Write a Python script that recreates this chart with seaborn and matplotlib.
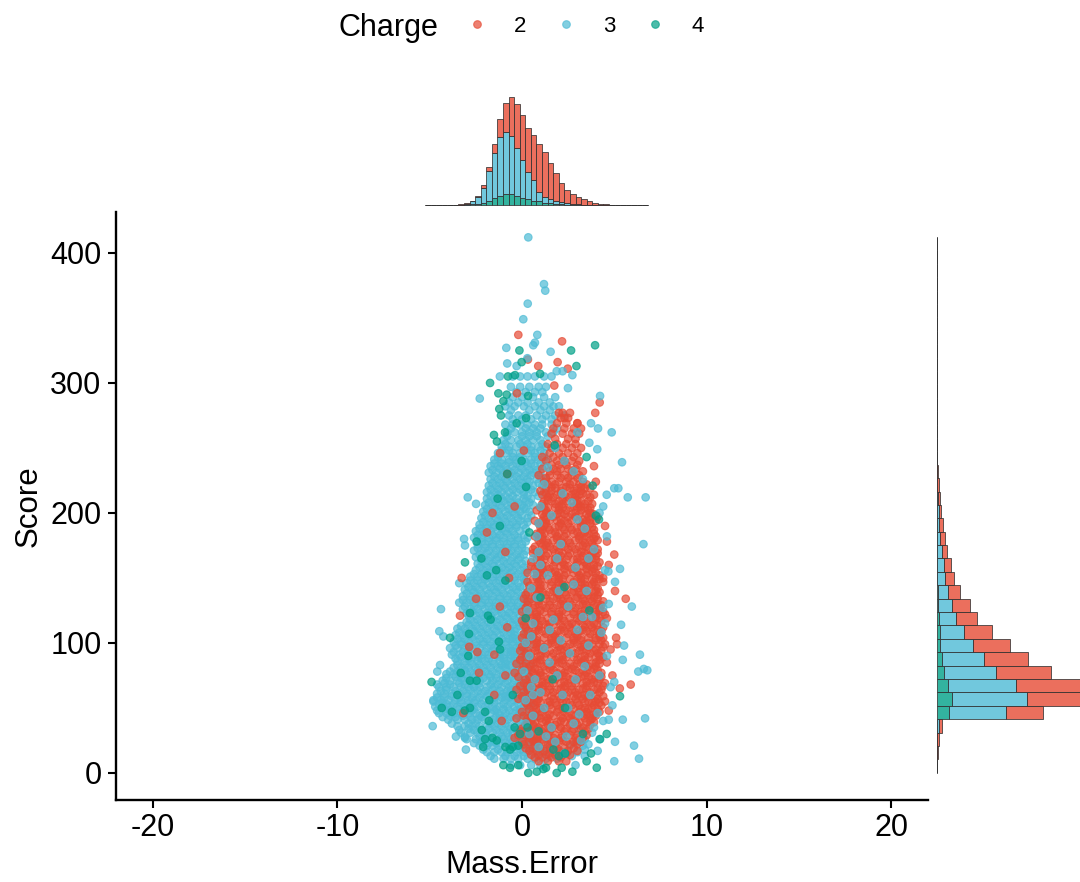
import numpy as np
import pandas as pd
import matplotlib
matplotlib.use("Agg")
import matplotlib.pyplot as plt
import seaborn as sns

blue_rows = {
    6: [-0.6, -0.1, 0.5, 1.0],
    11: [-1.5, -1.0, -0.6, -0.2, 0.3, 0.7, 1.3, 1.9],
    16: [-1.9, -1.5, -1.1, -0.8, -0.3, 0.1, 0.6, 1.1, 1.7, 2.3, 3.0],
    21: [-2.3, -1.9, -1.6, -1.2, -0.7, -0.4, 0.0, 0.4, 0.9, 1.5, 2.6, 3.3],
    26: [-3.0, -2.5, -2.1, -1.7, -1.3, -1.0, -0.6, -0.2, 0.2, 0.7, 1.4, 3.4, 4.2],
    31: [-3.3, -2.8, -2.4, -2.0, -1.6, -1.2, -0.8, -0.5, -0.1, 0.4, 1.1, 3.8],
    36: [-3.5, -3.1, -2.7, -2.3, -1.9, -1.5, -1.1, -0.7, -0.3, 0.1, 0.6],
    41: [-4.0, -3.5, -3.1, -2.7, -2.4, -2.0, -1.6, -1.2, -0.8, -0.4, 0.0, 0.5, 4.7],
    46: [-4.5, -4.1, -3.7, -3.3, -2.9, -2.5, -2.1, -1.7, -1.3, -0.9, -0.5, -0.1, 0.4],
    51: [-4.7, -4.3, -3.9, -3.5, -3.1, -2.8, -2.4, -2.0, -1.6, -1.2, -0.8, -0.4, 0.1, 0.6],
    56: [-4.8, -4.4, -4.0, -3.6, -3.3, -2.9, -2.5, -2.1, -1.7, -1.3, -0.9, -0.5, -0.1, 0.3],
    61: [-4.6, -4.2, -3.8, -3.4, -3.0, -2.6, -2.2, -1.8, -1.4, -1.0, -0.6, -0.2, 0.2, 0.7],
    66: [-4.5, -4.1, -3.7, -3.3, -2.9, -2.6, -2.3, -1.9, -1.5, -1.1, -0.7, -0.3, 0.1],
    71: [-4.3, -3.9, -3.5, -3.1, -2.7, -2.3, -1.9, -1.6, -1.2, -0.8, -0.4, 0.0, 0.4],
    76: [-4.1, -3.7, -3.3, -3.0, -2.6, -2.2, -1.8, -1.4, -1.0, -0.6, -0.2, 0.3],
    81: [-3.7, -3.3, -2.9, -2.5, -2.1, -1.7, -1.3, -0.9, -0.5, -0.1, 0.3],
    86: [-3.5, -3.1, -2.8, -2.4, -2.0, -1.6, -1.2, -0.8, -0.4, 0.0],
    91: [-3.8, -3.4, -3.0, -2.6, -2.2, -1.8, -1.4, -1.0, -0.6, -0.2, 0.2],
    96: [-3.9, -3.5, -3.1, -2.7, -2.3, -1.9, -1.5, -1.1, -0.7, -0.3, 0.1],
    101: [-3.7, -3.3, -2.9, -2.5, -2.1, -1.7, -1.3, -0.9, -0.5, -0.1],
    106: [-3.6, -3.2, -2.8, -2.4, -2.0, -1.6, -1.2, -0.8, -0.4, 0.0, 0.4],
    111: [-3.5, -3.1, -2.7, -2.3, -1.9, -1.5, -1.1, -0.7, -0.3, 0.2],
    116: [-3.0, -2.6, -2.2, -1.8, -1.4, -1.0, -0.6, -0.2, 0.1],
    121: [-2.9, -2.5, -2.1, -1.7, -1.3, -0.9, -0.5, -0.1],
    126: [-3.2, -2.8, -2.4, -2.0, -1.6, -1.2, -0.8, -0.4, 0.0],
    131: [-3.4, -3.0, -2.6, -2.2, -1.8, -1.4, -1.0, -0.6, -0.2, 0.2],
    136: [-3.2, -2.8, -2.4, -2.0, -1.6, -1.2, -0.8, -0.4, 0.0],
    141: [-3.1, -2.7, -2.3, -1.9, -1.5, -1.1, -0.7, -0.3],
    146: [-3.4, -3.0, -2.6, -2.2, -1.8, -1.4, -1.0, -0.6, -0.2],
    151: [-2.8, -2.4, -2.0, -1.6, -1.2, -0.8, -0.4, 0.0],
    156: [-2.5, -2.1, -1.7, -1.3, -0.9, -0.5, -0.1, 0.3],
    161: [-2.4, -2.0, -1.6, -1.2, -0.8, -0.4, 0.0],
    166: [-2.5, -2.1, -1.7, -1.3, -0.9, -0.5, -0.1],
    171: [-2.6, -2.2, -1.8, -1.4, -1.0, -0.6, -0.2, 0.2],
    176: [-2.4, -2.0, -1.6, -1.2, -0.8, -0.4, 0.0],
    181: [-2.6, -2.2, -1.8, -1.4, -1.0, -0.6, -0.2, 0.3],
    186: [-2.5, -2.1, -1.7, -1.3, -0.9, -0.5, -0.1],
    191: [-2.3, -1.9, -1.5, -1.1, -0.7, -0.3, 0.1],
    196: [-2.2, -1.8, -1.4, -1.0, -0.6, -0.2, 0.3],
    201: [-2.1, -1.7, -1.3, -0.9, -0.5, -0.1, 0.4],
    206: [-2.0, -1.6, -1.2, -0.8, -0.4, 0.0, 0.6],
    211: [-1.9, -1.5, -1.1, -0.7, -0.3, 0.1, 0.5],
    216: [-1.9, -1.5, -1.1, -0.7, -0.3, 0.1, 0.7, 1.2],
    221: [-1.8, -1.4, -1.0, -0.6, -0.2, 0.2, 0.6, 1.1],
    226: [-1.7, -1.3, -0.9, -0.5, -0.1, 0.3, 0.8, 1.3],
    231: [-1.8, -1.4, -1.0, -0.6, -0.2, 0.2, 0.6, 1.0],
    236: [-1.7, -1.3, -0.9, -0.5, -0.1, 0.3, 0.7, 1.2],
    241: [-1.5, -1.1, -0.7, -0.3, 0.1, 0.5, 0.9, 1.4],
    246: [-1.3, -0.9, -0.5, -0.1, 0.3, 0.7, 1.2],
    251: [-1.1, -0.7, -0.3, 0.1, 0.5, 0.9, 1.3],
    256: [-1.0, -0.6, -0.2, 0.2, 0.6, 1.0],
    262: [-0.8, -0.4, 0.0, 0.4, 0.8, 1.3, 1.7],
    268: [-0.9, -0.5, -0.1, 0.3, 0.7, 1.1, 1.6],
    275: [-0.7, -0.2, 0.2, 0.8, 1.3, 1.8, 2.3],
    282: [-0.9, -0.4, 0.1, 0.7, 1.2, 1.7, 2.0],
    289: [-0.5, 0.0, 0.6, 1.2, 1.8],
    297: [-0.6, -0.1, 0.4, 0.9, 1.3],
    305: [-1.2, -0.5, -0.1, 0.3, 0.7, 1.2, 1.6],
}

# Second pass over the same cloud, between the rows above
blue_rows_b = {
    13: [-1.7, -0.9, -0.4, 0.1, 0.9, 1.5, 2.7],
    18: [-2.1, -1.3, -0.6, -0.1, 0.4, 1.3, 2.0, 3.4],
    23: [-2.6, -1.8, -1.4, -0.9, -0.2, 0.3, 0.8, 1.7, 2.9],
    28: [-3.1, -2.3, -1.9, -1.1, -0.7, 0.0, 0.5, 1.0],
    33: [-3.4, -2.6, -2.2, -1.4, -1.0, -0.3, 0.2, 0.9, 3.1],
    38: [-3.8, -2.9, -2.5, -1.7, -1.3, -0.9, -0.1, 0.3],
    43: [-4.3, -3.6, -2.8, -2.2, -1.4, -1.0, -0.6, 0.2, 0.8],
    48: [-4.6, -3.9, -3.1, -2.7, -1.9, -1.5, -0.7, -0.3, 0.2],
    53: [-4.5, -4.1, -3.7, -2.9, -2.2, -1.8, -1.0, -0.2, 0.4],
    58: [-4.6, -4.2, -3.4, -2.7, -2.3, -1.5, -1.1, -0.7, 0.1],
    63: [-4.4, -3.6, -3.2, -2.4, -2.0, -1.2, -0.8, -0.4, 0.4],
    68: [-4.6, -3.9, -3.1, -2.7, -1.7, -1.3, -0.5, -0.1, 0.5],
    73: [-4.1, -3.3, -2.9, -2.1, -1.4, -1.0, -0.2, 0.2],
    78: [-3.9, -3.5, -2.8, -2.0, -1.6, -0.8, -0.4, 0.1],
    83: [-3.5, -3.1, -2.3, -1.9, -1.1, -0.7, -0.3, 0.5],
    88: [-3.6, -2.9, -2.2, -1.8, -1.0, -0.6, 0.2],
    93: [-3.7, -3.2, -2.4, -2.0, -1.2, -0.8, -0.4],
    98: [-3.6, -2.9, -2.5, -1.7, -1.3, -0.5, -0.1, 0.4],
    103: [-3.5, -3.1, -2.3, -1.9, -1.1, -0.7, -0.3],
    108: [-3.4, -3.0, -2.2, -1.8, -1.0, -0.6, 0.2],
    113: [-3.3, -2.5, -2.1, -1.3, -0.9, -0.1],
    118: [-2.8, -2.4, -1.6, -1.2, -0.4, 0.0],
    123: [-3.0, -2.3, -1.9, -1.1, -0.7, 0.2],
    128: [-3.1, -2.6, -1.8, -1.4, -0.6, -0.2],
    133: [-3.2, -2.8, -2.0, -1.6, -0.8, -0.4, 0.4],
    138: [-3.0, -2.2, -1.8, -1.0, -0.6, 0.2],
    143: [-2.9, -2.5, -1.7, -1.3, -0.5, -0.1],
    148: [-2.8, -2.4, -1.6, -1.2, -0.4, 0.2],
    153: [-2.6, -2.2, -1.4, -1.0, -0.2],
    158: [-2.3, -1.9, -1.1, -0.7, 0.1],
    163: [-2.2, -1.8, -1.0, -0.6, 0.2],
    168: [-2.3, -1.5, -1.1, -0.3, 0.1],
    173: [-2.4, -2.0, -1.2, -0.8, 0.0],
    178: [-2.2, -1.8, -1.0, -0.6, 0.2],
    183: [-2.4, -1.6, -1.2, -0.4, 0.1],
    188: [-2.3, -1.9, -1.1, -0.7, 0.2],
    193: [-2.1, -1.7, -0.9, -0.5, 0.3],
    198: [-2.0, -1.2, -0.8, 0.0, 0.5],
    203: [-1.9, -1.5, -0.7, -0.3, 0.2],
    208: [-1.8, -1.4, -0.6, -0.2, 0.4],
    213: [-1.7, -0.9, -0.5, 0.3, 0.9],
    218: [-1.7, -1.3, -0.5, -0.1, 0.5],
    223: [-1.6, -1.2, -0.4, 0.0, 0.9],
    228: [-1.5, -1.1, -0.3, 0.1, 1.0],
    233: [-1.6, -0.8, -0.4, 0.4, 0.8],
    238: [-1.5, -1.1, -0.3, 0.5, 1.0],
    243: [-1.3, -0.5, -0.1, 0.7, 1.2],
    248: [-1.1, -0.7, 0.1, 0.5, 1.0],
    253: [-0.9, -0.1, 0.3, 1.1],
    259: [-0.8, 0.0, 0.4, 0.8, 1.4],
    265: [-0.6, 0.2, 0.6, 1.0, 1.9],
    272: [-0.5, 0.0, 0.5, 1.1, 1.6],
    279: [-0.6, 0.4, 1.0, 1.5],
    285: [-0.7, -0.2, 0.3, 0.9, 1.5],
    293: [-0.3, 0.2, 0.7, 1.1],
}

# Third pass, filling the gaps in the solid blue area
blue_rows_c = {
    24: [-2.2, -1.5, -0.5, 0.6],
    34: [-2.9, -1.8, -0.6, 0.4],
    44: [-3.9, -3.2, -2.3, -1.2, -0.2, 0.7],
    49: [-4.2, -3.4, -2.6, -1.4, -1.0, -0.1],
    54: [-4.3, -3.3, -2.6, -1.5, -0.6, 0.5],
    59: [-3.8, -3.0, -1.9, -0.9, -0.3],
    64: [-4.1, -2.8, -1.6, -0.6, 0.1],
    69: [-4.2, -3.4, -2.3, -0.9, 0.2],
    74: [-3.6, -2.5, -1.7, -0.6, 0.4],
    79: [-3.1, -2.4, -1.2, 0.3],
    84: [-2.7, -1.5, -0.9, 0.1],
    89: [-3.3, -2.4, -1.2, -0.4],
    94: [-2.9, -1.6, -0.6, 0.1],
    99: [-3.3, -2.1, -0.9, 0.1],
    104: [-2.7, -1.5, -0.5, 0.3],
    109: [-2.6, -1.4, -0.4, 0.4],
    114: [-2.9, -1.7, -0.5],
    119: [-2.0, -0.8, 0.2],
    124: [-2.7, -1.5, -0.3],
    129: [-2.2, -1.0, 0.1],
    134: [-2.4, -1.2, 0.0],
    139: [-2.6, -1.4, -0.2],
    144: [-2.1, -0.9, 0.1],
    149: [-2.0, -0.8, 0.1],
    154: [-1.8, -0.6, 0.2],
    159: [-1.5, -0.3],
    164: [-1.4, -0.2],
    169: [-1.9, -0.7],
    174: [-1.6, -0.4],
    179: [-1.4, -0.2],
    184: [-2.0, -0.8],
    189: [-1.5, -0.3],
    194: [-1.3, -0.1],
    199: [-1.6, -0.4],
    204: [-1.1, 0.1],
    209: [-1.0, 0.2],
    214: [-1.3, 0.1],
    219: [-0.9, 0.3],
    224: [-0.8, 0.4],
    229: [-0.7, 0.5],
    234: [-1.2, 0.0],
    239: [-0.7, 0.2],
}

red_rows = {
    9: [0.9, 1.4, 2.0, 2.4],
    14: [0.5, 0.9, 1.3, 1.8, 2.2, 2.6],
    19: [0.2, 0.6, 1.0, 1.5, 1.9, 2.3, 2.8],
    24: [0.0, 0.4, 0.8, 1.2, 1.6, 2.0, 2.4, 2.8, 3.2],
    29: [-0.2, 0.2, 0.6, 1.0, 1.4, 1.8, 2.2, 2.6, 3.0, 3.5],
    34: [0.0, 0.4, 0.8, 1.2, 1.6, 2.0, 2.4, 2.8, 3.2, 3.6],
    39: [0.3, 0.7, 1.1, 1.5, 1.9, 2.3, 2.7, 3.1, 3.5, 3.9],
    44: [0.1, 0.5, 0.9, 1.3, 1.7, 2.1, 2.5, 2.9, 3.3, 3.7, 4.0],
    49: [0.4, 0.8, 1.2, 1.6, 2.0, 2.4, 2.8, 3.2, 3.6, 4.1],
    54: [0.2, 0.6, 1.0, 1.4, 1.8, 2.2, 2.6, 3.0, 3.4, 3.8, 4.2],
    59: [0.0, 0.4, 0.8, 1.2, 1.6, 2.0, 2.4, 2.8, 3.2, 3.6, 4.0, 4.4],
    64: [-0.3, 0.3, 0.7, 1.1, 1.5, 1.9, 2.3, 2.7, 3.1, 3.5, 3.9, 4.3],
    69: [0.1, 0.5, 0.9, 1.3, 1.7, 2.1, 2.5, 2.9, 3.3, 3.7, 4.1, 4.5],
    74: [-0.2, 0.4, 0.8, 1.2, 1.6, 2.0, 2.4, 2.8, 3.2, 3.6, 4.0, 4.3],
    79: [0.0, 0.5, 0.9, 1.3, 1.7, 2.1, 2.5, 2.9, 3.3, 3.7, 4.1],
    84: [-0.3, 0.2, 0.6, 1.0, 1.4, 1.8, 2.2, 2.6, 3.0, 3.4, 3.8, 4.2],
    89: [0.0, 0.4, 0.8, 1.2, 1.6, 2.0, 2.4, 2.8, 3.2, 3.6, 4.0, 4.4],
    94: [-0.1, 0.3, 0.7, 1.1, 1.5, 1.9, 2.3, 2.7, 3.1, 3.5, 3.9, 4.3],
    99: [0.2, 0.6, 1.0, 1.4, 1.8, 2.2, 2.6, 3.0, 3.4, 3.8, 4.2, 4.5],
    104: [0.0, 0.4, 0.8, 1.2, 1.6, 2.0, 2.4, 2.8, 3.2, 3.6, 4.0, 4.4],
    109: [0.3, 0.7, 1.1, 1.5, 1.9, 2.3, 2.7, 3.1, 3.5, 3.9, 4.3],
    114: [0.1, 0.5, 0.9, 1.3, 1.7, 2.1, 2.5, 2.9, 3.3, 3.7, 4.1],
    119: [0.2, 0.6, 1.0, 1.4, 1.8, 2.2, 2.6, 3.0, 3.4, 3.8, 4.2, 4.6],
    124: [0.0, 0.4, 0.8, 1.2, 1.6, 2.0, 2.4, 2.8, 3.2, 3.6, 4.0, 4.4],
    129: [0.3, 0.7, 1.1, 1.5, 1.9, 2.3, 2.7, 3.1, 3.5, 3.9, 4.3],
    134: [0.1, 0.5, 0.9, 1.3, 1.7, 2.1, 2.5, 2.9, 3.3, 3.7, 4.1],
    139: [0.3, 0.7, 1.1, 1.5, 1.9, 2.3, 2.7, 3.1, 3.5, 3.9, 4.2],
    144: [0.4, 0.8, 1.2, 1.6, 2.0, 2.4, 2.8, 3.2, 3.6, 4.0],
    149: [0.6, 1.0, 1.4, 1.8, 2.2, 2.6, 3.0, 3.4, 3.8, 4.2],
    154: [0.3, 0.8, 1.2, 1.6, 2.0, 2.4, 2.8, 3.2, 3.6, 4.0],
    159: [0.5, 0.9, 1.3, 1.7, 2.1, 2.5, 2.9, 3.3, 3.7, 4.1],
    164: [0.8, 1.2, 1.6, 2.0, 2.4, 2.8, 3.2, 3.6, 4.0],
    169: [0.6, 1.0, 1.4, 1.8, 2.2, 2.6, 3.0, 3.4, 3.8, 4.1],
    174: [0.7, 1.1, 1.5, 1.9, 2.3, 2.7, 3.1, 3.5, 3.9],
    179: [0.9, 1.3, 1.7, 2.1, 2.5, 2.9, 3.3, 3.7, 4.1],
    184: [0.8, 1.2, 1.6, 2.0, 2.4, 2.8, 3.2, 3.6, 3.9],
    189: [1.0, 1.4, 1.8, 2.2, 2.6, 3.0, 3.4, 3.8],
    194: [0.7, 1.1, 1.5, 1.9, 2.3, 2.7, 3.1, 3.5, 4.0],
    199: [1.1, 1.5, 1.9, 2.3, 2.7, 3.1, 3.5, 3.9],
    204: [1.0, 1.4, 1.8, 2.2, 2.6, 3.0, 3.4, 3.7],
    209: [1.2, 1.6, 2.0, 2.4, 2.8, 3.2, 3.6],
    214: [1.1, 1.5, 1.9, 2.3, 2.7, 3.1, 3.5, 3.9],
    219: [1.3, 1.8, 2.2, 2.6, 3.0, 3.4, 3.7],
    224: [1.2, 1.6, 2.0, 2.4, 2.8, 3.3],
    229: [0.9, 1.5, 1.9, 2.3, 2.7, 3.1],
    234: [1.1, 1.7, 2.1, 2.5, 2.9],
    240: [1.3, 1.9, 2.3, 2.7, 3.1],
    246: [1.5, 2.0, 2.5, 3.0],
    253: [1.4, 1.9, 2.4, 2.9],
    261: [1.6, 2.2, 2.7, 3.1],
    269: [1.9, 2.4, 3.0],
    277: [2.0, 2.2, 2.6],
}

red_rows_b = {
    12: [0.7, 1.1, 1.6, 2.1],
    17: [0.4, 0.8, 1.2, 2.0, 2.5, 3.0],
    22: [0.1, 0.7, 1.4, 1.8, 2.6, 3.0],
    27: [-0.4, 0.4, 0.8, 1.7, 2.1, 2.9, 3.3],
    32: [-0.1, 0.5, 1.1, 1.5, 2.3, 2.7, 3.4],
    37: [0.2, 0.6, 1.4, 1.8, 2.6, 3.0, 3.7],
    42: [-0.3, 0.3, 1.0, 1.4, 2.2, 2.6, 3.4, 3.8],
    47: [0.0, 0.6, 1.1, 1.9, 2.3, 3.1, 3.5, 4.2],
    52: [0.3, 0.7, 1.5, 1.9, 2.7, 3.1, 3.9, 4.3],
    57: [-0.2, 0.5, 0.9, 1.7, 2.1, 2.9, 3.3, 4.1],
    62: [0.1, 0.6, 1.3, 1.7, 2.5, 2.9, 3.7, 4.2],
    67: [-0.1, 0.3, 1.1, 1.5, 2.3, 2.7, 3.5, 4.4],
    72: [0.2, 0.7, 1.4, 1.8, 2.6, 3.0, 3.8, 4.2],
    77: [-0.4, 0.6, 1.0, 1.9, 2.3, 3.1, 3.5, 4.3],
    82: [0.1, 0.4, 1.2, 1.6, 2.4, 2.8, 3.6, 4.0],
    87: [-0.1, 0.6, 1.0, 1.8, 2.2, 3.0, 3.4, 4.2],
    92: [0.2, 0.5, 1.3, 1.7, 2.5, 2.9, 3.7, 4.1],
    97: [0.0, 0.8, 1.2, 2.0, 2.4, 3.2, 3.6, 4.4],
    102: [0.4, 0.8, 1.6, 2.0, 2.8, 3.2, 4.0, 4.3],
    107: [0.1, 0.6, 1.3, 1.7, 2.5, 2.9, 3.7, 4.2],
    112: [0.2, 0.9, 1.4, 2.2, 2.6, 3.4, 3.8, 4.4],
    117: [0.0, 0.7, 1.1, 1.9, 2.3, 3.1, 3.5, 4.3],
    122: [0.4, 0.8, 1.6, 2.0, 2.8, 3.2, 4.0, 4.5],
    127: [0.2, 0.6, 1.3, 1.7, 2.5, 2.9, 3.7, 4.2],
    132: [0.3, 0.9, 1.5, 2.2, 2.6, 3.4, 3.8, 4.4],
    137: [0.2, 0.8, 1.3, 2.0, 2.4, 3.2, 3.6, 4.1],
    142: [0.6, 1.0, 1.8, 2.2, 3.0, 3.4, 4.1],
    147: [0.3, 0.9, 1.6, 2.0, 2.8, 3.2, 3.9, 4.4],
    152: [0.8, 1.1, 1.9, 2.3, 3.1, 3.5, 4.2],
    157: [0.7, 1.1, 1.5, 2.3, 2.7, 3.5, 3.9],
    162: [0.5, 1.0, 1.8, 2.2, 3.0, 3.4, 4.2],
    167: [0.9, 1.3, 2.1, 2.5, 3.3, 3.7, 4.0],
    172: [0.6, 1.2, 1.7, 2.5, 2.9, 3.6, 4.1],
    177: [1.0, 1.4, 2.2, 2.6, 3.4, 3.8],
    182: [0.7, 1.1, 1.9, 2.3, 3.1, 3.5, 4.0],
    187: [1.1, 1.5, 2.3, 2.7, 3.5, 3.9],
    192: [0.9, 1.3, 2.1, 2.5, 3.3, 3.7],
    197: [1.2, 1.7, 2.5, 2.9, 3.6, 4.1],
    202: [0.8, 1.3, 2.0, 2.4, 3.2, 3.6],
    207: [1.1, 1.8, 2.2, 3.0, 3.4, 3.8],
    212: [1.4, 1.7, 2.5, 2.9, 3.7],
    217: [1.0, 1.6, 2.1, 2.8, 3.2],
    222: [1.4, 1.8, 2.6, 3.1, 3.5],
    227: [1.3, 2.1, 2.5, 3.0],
    232: [1.5, 1.9, 2.7, 3.3],
    237: [1.6, 2.0, 2.4, 3.0],
    243: [1.1, 1.7, 2.2, 2.8],
    250: [1.6, 2.2, 2.7, 3.2],
    257: [1.8, 2.5, 2.9],
    265: [1.7, 2.3, 2.8, 3.2],
    273: [2.1, 2.3, 2.5],
}

# Third pass, filling the gaps in the solid red area
red_rows_c = {
    15: [1.5, 2.4],
    25: [0.6, 1.0, 2.2, 3.0],
    35: [0.9, 2.1, 3.3],
    40: [0.5, 1.3, 2.1, 2.9, 3.7],
    45: [0.7, 1.5, 2.7, 3.5, 3.9],
    50: [1.0, 2.2, 3.4, 3.8],
    55: [0.8, 1.5, 2.4, 3.6, 4.0],
    60: [0.9, 2.2, 3.0, 3.4],
    65: [0.9, 2.1, 3.3, 4.1],
    70: [1.1, 2.3, 3.5, 3.9],
    75: [1.0, 2.2, 3.4, 4.2],
    80: [0.7, 1.5, 2.7, 3.9],
    85: [0.8, 2.0, 3.2, 4.0],
    90: [1.0, 2.2, 3.4, 4.2],
    95: [0.9, 2.1, 3.3, 4.0],
    100: [0.8, 1.6, 2.8, 3.6],
    105: [0.6, 1.8, 3.0, 4.2],
    110: [0.9, 2.1, 3.3, 4.1],
    115: [0.7, 1.5, 2.7, 3.9],
    120: [0.8, 2.0, 3.2, 4.0],
    125: [1.0, 2.2, 3.4, 4.2],
    130: [0.9, 2.1, 3.3, 4.1],
    135: [0.7, 1.9, 3.0, 3.9],
    140: [0.9, 1.7, 2.8, 4.0],
    145: [1.0, 2.2, 3.4, 3.8],
    150: [0.8, 2.0, 3.2, 4.0],
    155: [1.0, 1.8, 3.0, 3.8],
    160: [1.1, 2.3, 3.5, 3.9],
    165: [1.0, 1.8, 3.0, 3.8],
    170: [0.8, 2.0, 3.2, 3.9],
    175: [1.3, 2.1, 3.3],
    180: [1.1, 1.9, 3.1, 3.9],
    185: [1.0, 1.8, 3.0, 3.4],
    190: [1.2, 2.0, 3.2],
    195: [1.3, 2.1, 3.3, 3.7],
    200: [1.3, 2.1, 2.9, 3.7],
    205: [1.2, 2.0, 2.8, 3.2],
    210: [1.4, 2.2, 3.0],
    215: [1.3, 2.1, 2.9, 3.3],
    220: [1.6, 2.4, 3.2],
}

# Loose points, (mass error, score)
red_points = [
    (-0.2, 337), (2.17, 332), (1.93, 316), (0.88, 313), (2.48, 311), (1.75, 298), (-0.27, 292),
    (0.32, 318), (4.21, 285), (3.97, 277), (3.0, 269), (-1.19, 246), (5.0, 168), (5.62, 134),
    (5.04, 140), (5.15, 99), (5.1, 104), (5.89, 68), (5.3, 65), (-3.27, 150), (-3.36, 121),
    (-2.86, 97), (-2.42, 93), (-2.33, 77), (-3.18, 46), (-2.49, 134), (-1.6, 200), (-0.9, 170),
    (-1.9, 185), (-1.2, 128), (-0.8, 112), (-1.5, 60), (-0.9, 75), (-1.1, 40), (-1.5, 91),
    (-0.7, 150), (-0.4, 205), (-0.8, 230), (0.1, 248), (4.5, 190), (4.6, 178), (4.7, 160),
    (4.4, 150), (4.8, 95), (4.6, 85), (4.9, 75), (4.5, 55), (4.7, 48), (4.0, 224), (3.9, 236),
]

# Blue points that lie over the red part
blue_points = [
    (0.34, 412), (1.19, 376), (1.26, 371), (0.31, 361), (0.07, 349), (0.83, 337), (0.70, 331),
    (0.61, 329), (-0.85, 327), (1.55, 324), (-0.8, 315), (0.29, 319), (-0.29, 313), (2.73, 306),
    (1.88, 309), (2.2, 309), (-2.29, 288), (2.49, 296), (4.23, 290), (3.74, 269), (4.12, 265),
    (4.86, 262), (4.08, 249), (3.65, 254), (5.42, 239), (4.59, 214), (5.22, 219), (5.0, 219),
    (5.73, 212), (6.7, 212), (-2.94, 212), (-2.49, 207), (6.58, 176), (-3.14, 180), (-3.09, 175),
    (-4.39, 126), (-4.48, 109), (-4.26, 105), (-4.44, 83), (-4.59, 78), (-4.84, 36), (-4.8, 55),
    (-3.58, 28), (-3.09, 27), (-3.04, 18), (6.39, 91), (6.3, 78), (6.79, 79), (6.6, 80), (6.67, 42),
    (6.07, 21), (6.34, 11), (5.0, 9), (5.04, 24), (5.46, 41), (5.37, 114), (5.53, 98), (5.46, 87),
    (5.95, 128), (5.31, 157), (5.04, 147), (4.68, 155), (4.5, 156), (4.7, 130), (4.4, 127),
    (4.5, 115), (4.3, 108), (4.6, 90), (4.8, 66), (5.0, 70), (4.9, 52), (4.4, 40), (3.9, 35),
    (3.6, 22), (2.9, 6), (3.4, 13), (4.1, 17), (3.2, 25), (4.6, 182), (4.2, 200), (4.4, 205),
    (0.9, 20), (1.6, 35), (2.4, 28), (1.2, 50), (2.2, 60), (3.1, 45), (1.9, 75), (0.7, 72),
    (3.4, 82), (2.6, 92), (1.2, 96), (3.0, 110), (1.7, 118), (0.8, 135), (2.5, 128), (3.5, 140),
    (1.4, 152), (2.9, 158), (0.9, 170), (2.1, 176), (3.4, 188), (1.6, 198), (2.7, 208),
    (1.2, 222), (3.3, 226), (2.3, 240), (1.8, 250), (3.0, 262), (0.6, 60), (1.5, 110),
    (0.5, 105), (3.8, 120), (3.7, 60), (2.8, 38), (1.0, 160), (3.9, 172), (2.0, 140),
    (0.4, 30), (0.6, 44), (0.2, 56), (0.5, 66), (0.1, 78), (0.4, 90), (0.2, 100), (0.6, 115),
    (0.3, 125), (0.5, 142), (0.7, 153), (0.6, 165), (0.8, 182), (0.9, 192), (1.0, 205),
    (0.2, 38), (1.3, 28), (1.0, 62), (1.5, 85), (2.1, 102), (2.9, 72), (3.6, 98), (4.2, 75),
    (4.1, 46), (2.5, 50), (1.8, 24), (2.3, 15), (3.3, 120), (2.8, 145), (3.6, 165), (1.9, 165),
    (3.0, 195), (2.2, 215), (1.4, 235), (2.8, 232),
]

green_points = [
    (3.96, 329), (2.66, 325), (-0.14, 325), (2.95, 313), (-0.02, 316), (0.98, 307), (-0.76, 305),
    (-0.38, 306), (-1.73, 300), (-1.28, 292), (0.33, 290), (-0.83, 291), (-1.01, 286), (-1.23, 280),
    (-1.14, 275), (0.22, 273), (-0.29, 269), (-0.92, 262), (-1.52, 260), (-1.36, 255), (1.77, 252),
    (-0.02, 240), (-0.8, 230), (3.5, 243), (3.83, 221), (-1.32, 211), (0.22, 220), (-4.9, 70),
    (-3.09, 162), (-2.46, 178), (-3.9, 104), (-2.82, 123), (-1.84, 121), (-1.7, 118), (-2.87, 107),
    (-1.25, 101), (-1.19, 95), (-2.91, 90), (-3.32, 77), (-2.82, 71), (-2.46, 71), (-1.77, 56),
    (-4.35, 50), (-2.82, 50), (-3.1, 48), (1.66, 72), (3.65, 125), (4.17, 195), (4.0, 198),
    (5.31, 59), (4.59, 30), (4.23, 26), (3.74, 15), (3.5, 9), (4.05, 4), (2.73, 1), (2.15, 4),
    (1.88, 0), (1.16, 3), (1.3, 4), (0.8, 1), (0.34, 0), (-0.2, 6), (-0.65, 4), (-1.01, 6),
    (-0.2, 21), (-0.5, 20), (-0.9, 20), (-0.65, 18), (-2.1, 20), (-2.0, 26), (-1.37, 25), (-1.6, 27),
    (-2.18, 33), (2.33, 50), (2.33, 15), (2.0, 13), (1.7, 18), (-1.4, 156), (-1.2, 190), (-0.9, 148),
    (0.4, 185), (-2.2, 165), (-1.9, 152), (1.0, 135), (2.3, 143), (0.2, 119), (-0.5, 60), (0.3, 35),
    (0.9, 32), (-0.4, 35), (-1.8, 40), (-2.0, 47), (-0.1, 30), (3.3, 30), (-3.8, 47), (-3.5, 60),
]

# Stacked marginal counts, 40 bins each, in bar lengths
top_red = [0.1, 0.1, 0.1, 0.1, 0.1, 0.1, 0.4, 0.2, 0.3, 0.7, 2.4, 4.3, 9.3, 17.7, 28.7, 38.4, 43.4,
           44.4, 44.0, 45.0, 47.4, 44.7, 36.0, 28.3, 19.6, 13.6, 9.7, 7.6, 5.2, 3.4, 2.1, 1.2, 0.7,
           0.2, 0.1, 0.1, 0.1, 0.1, 0.1, 0.1]
top_blue = [0, 0, 0, 0, 0, 0, 0.3, 1.2, 3.0, 7.0, 15.0, 29.4, 44.7, 59.0, 62.3, 58.6, 48.3, 38.0,
            27.6, 20.7, 9.6, 6.0, 4.0, 2.7, 2.0, 1.4, 1.0, 0.6, 0.5, 0.3, 0.2, 0.1, 0, 0, 0, 0, 0,
            0, 0, 0]
top_green = [0, 0, 0, 0, 0, 0, 0, 0.3, 0.7, 1.3, 2.3, 4.3, 7.3, 9.0, 10.7, 10.7, 9.0, 7.3, 5.7, 4.0,
             3.7, 2.3, 1.7, 1.3, 0.7, 0.3, 0.3, 0.1, 0, 0, 0, 0, 0, 0, 0, 0, 0, 0, 0, 0]

right_red = [0.3, 0.7, 1.3, 3.3, 37, 60, 64, 55, 44.7, 37.3, 28, 21, 17.3, 11.7, 8.7, 7.3, 4.7, 4.3,
             3.3, 2.3, 2.0, 2.0, 1.0, 0.5, 0.3, 0.2, 0.1, 0.1, 0, 0, 0, 0, 0, 0, 0, 0, 0, 0, 0, 0]
right_blue = [0, 0.3, 0.7, 2, 57, 75, 68, 52, 41.3, 32.3, 24.3, 17, 14, 10.7, 7.7, 6.7, 5, 3.5, 2.7,
              2, 1.3, 0.7, 0.3, 0.2, 0.1, 0.1, 0, 0, 0, 0, 0, 0, 0, 0, 0, 0, 0, 0, 0, 0]
right_green = [0, 0, 0, 0.3, 12, 15, 11, 7.7, 5.7, 3.7, 3, 2.3, 1.7, 1, 0.7, 0.3, 0.3, 0.2, 0.2, 0.1,
               0.1, 0, 0, 0, 0, 0, 0, 0, 0, 0, 0, 0, 0, 0, 0, 0, 0, 0, 0, 0]

x_ticks = [-20, -10, 0, 10, 20]
y_ticks = [0, 100, 200, 300, 400]
charges = [2, 3, 4]
palette = {2: "#E64B35", 3: "#4DBBD5", 4: "#00A087"}

sns.set_theme(style="ticks")
plt.rcParams["font.family"] = ["Liberation Sans", "DejaVu Sans"]
plt.rcParams["axes.unicode_minus"] = False


def rows_to_df(rows, charge):
    out = [(x, y, charge) for y, xs in rows.items() for x in xs]
    return pd.DataFrame(out, columns=["Mass.Error", "Score", "Charge"])


def points_to_df(points, charge):
    out = [(x, y, charge) for x, y in points]
    return pd.DataFrame(out, columns=["Mass.Error", "Score", "Charge"])


# Order matters, later points sit on top of earlier ones
df = pd.concat([
    rows_to_df(blue_rows, 3),
    rows_to_df(blue_rows_b, 3),
    rows_to_df(blue_rows_c, 3),
    rows_to_df(red_rows, 2),
    rows_to_df(red_rows_b, 2),
    rows_to_df(red_rows_c, 2),
    points_to_df(red_points, 2),
    points_to_df(blue_points, 3),
    points_to_df(green_points, 4),
], ignore_index=True)

W, H = 1080, 882
fig = plt.figure(figsize=(W / 100, H / 100), dpi=100)


def px_axes(left, top, right, bottom):
    return fig.add_axes([left / W, (H - bottom) / H, (right - left) / W, (bottom - top) / H])


ax = px_axes(116, 212, 928, 800)
ax_top = px_axes(116, 90, 928, 207)
ax_right = px_axes(936, 212, 1080, 800)

sns.scatterplot(data=df, x="Mass.Error", y="Score", hue="Charge", hue_order=charges, palette=palette,
                s=30, alpha=0.7, linewidth=0.8, edgecolor="face", ax=ax)
handles, labels = ax.get_legend_handles_labels()
ax.get_legend().remove()

ax.set_xlim(-22, 22)
ax.set_ylim(-20.8, 431.5)
ax.set_xticks(x_ticks)
ax.set_yticks(y_ticks)
ax.tick_params(labelsize=22, length=5.5, width=1.5, color="black", labelcolor="black", pad=4)
ax.tick_params(axis="y", pad=5)
ax.set_xlabel("Mass.Error", fontsize=22.5, color="black", labelpad=5)
ax.set_ylabel("Score", fontsize=22.5, color="black", labelpad=5)
for side in ["top", "right"]:
    ax.spines[side].set_visible(False)
for side in ["left", "bottom"]:
    ax.spines[side].set_linewidth(1.7)
    ax.spines[side].set_color("black")


def marginal_df(red, blue, green, low, high):
    edges = np.linspace(low, high, 41)
    centers = (edges[:-1] + edges[1:]) / 2
    parts = [pd.DataFrame({"pos": centers, "n": vals, "Charge": c})
             for vals, c in zip([red, blue, green], charges)]
    return pd.concat(parts, ignore_index=True)


# Top marginal, ylim starts just below zero so the flat bars stay visible
top_df = marginal_df(top_red, top_blue, top_green, -5.26, 6.83)
sns.histplot(data=top_df, x="pos", weights="n", hue="Charge", hue_order=charges, palette=palette,
             multiple="stack", bins=40, binrange=(-5.26, 6.83), alpha=0.8, edgecolor="#333333",
             linewidth=0.55, legend=False, ax=ax_top)
ax_top.set_xlim(-22, 22)
ax_top.set_ylim(-2, 115)
ax_top.axis("off")

# Right marginal
right_df = marginal_df(right_red, right_blue, right_green, 0.2, 412.2)
sns.histplot(data=right_df, y="pos", weights="n", hue="Charge", hue_order=charges, palette=palette,
             multiple="stack", bins=40, binrange=(0.2, 412.2), alpha=0.8, edgecolor="#333333",
             linewidth=0.55, legend=False, ax=ax_right)
ax_right.set_ylim(-20.8, 431.5)
ax_right.set_xlim(-0.5, 143.5)
ax_right.axis("off")

# Legend across the top
fig.text(338 / W, 1 - 28 / H, "Charge", fontsize=22, va="center", ha="left", color="black")
fig.legend(handles, labels, ncols=3, loc="center left", bbox_to_anchor=(455 / W, 1 - 26 / H),
           frameon=False, fontsize=16, markerscale=1.0, handletextpad=0.64, columnspacing=0.81,
           borderaxespad=0, borderpad=0, labelcolor="black")

fig.savefig("out.png", dpi=100)
